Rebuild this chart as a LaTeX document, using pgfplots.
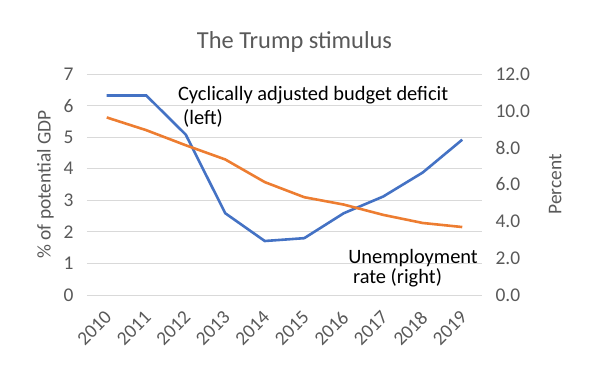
\documentclass[border=0pt]{standalone}
\usepackage{fontspec}
\setmainfont{Carlito}
\usepackage{pgfplots}
\pgfplotsset{compat=1.18}
\definecolor{cblue}{HTML}{4472C4}
\definecolor{corange}{HTML}{ED7D31}
\definecolor{tgrey}{HTML}{595959}
\definecolor{ggrey}{HTML}{D9D9D9}
\begin{document}
\begin{tikzpicture}
\useasboundingbox (-87bp,-89bp) rectangle (502bp,295bp);
\pgfplotsset{
  common/.style={
    scale only axis, width=395bp, height=221bp,
    at={(0,0)}, anchor=south west,
    xmin=-0.5, xmax=9.5, ymin=0,
    axis line style={draw=none},
    major tick style={draw=none},
    tick label style={font=\fontsize{19.5}{22}\selectfont, text=tgrey},
    label style={font=\fontsize{19.5}{22}\selectfont, text=tgrey},
    /pgf/number format/assume math mode=true,
  }
}
\begin{axis}[common,
  ymax=7, ytick={0,1,...,7},
  ymajorgrids, grid style={ggrey, line width=0.8bp},
  xtick={0,...,9},
  xticklabels={2010,2011,2012,2013,2014,2015,2016,2017,2018,2019},
  xticklabel style={xshift=4bp, yshift=-17bp, rotate=45, anchor=east},
  yticklabel style={xshift=-10bp},
  ylabel={\% of potential GDP},
  ylabel style={yshift=3bp},
]
\addplot[cblue, line width=2.6bp] coordinates {
(0,6.32) (1,6.32) (2,5.08) (3,2.59) (4,1.71) (5,1.80) (6,2.59) (7,3.12) (8,3.88) (9,4.92)};
\node[anchor=west, font=\fontsize{20.5}{24}\selectfont, inner sep=0] at (axis cs:1.80,6.33) {Cyclically adjusted budget deficit};
\node[anchor=west, font=\fontsize{20.5}{24}\selectfont, inner sep=0] at (axis cs:1.93,5.60) {(left)};
\node[anchor=west, font=\fontsize{20.5}{24}\selectfont, inner sep=0] at (axis cs:6.11,1.17) {Unemployment};
\node[anchor=west, font=\fontsize{20.5}{24}\selectfont, inner sep=0] at (axis cs:6.23,0.54) {rate (right)};
\end{axis}
\begin{axis}[common,
  ymax=12, ytick={0,2,...,12},
  axis y line*=right, axis x line=none,
  yticklabel style={xshift=10bp, /pgf/number format/fixed, /pgf/number format/fixed zerofill, /pgf/number format/precision=1},
  ylabel={Percent},
  ylabel style={yshift=-12bp},
]
\addplot[corange, line width=2.6bp] coordinates {
(0,9.64) (1,8.95) (2,8.13) (3,7.36) (4,6.13) (5,5.31) (6,4.91) (7,4.35) (8,3.91) (9,3.69)};
\end{axis}
\node[font=\fontsize{24.5}{28}\selectfont, text=tgrey] at (207.5bp,253bp) {The Trump stimulus};
\end{tikzpicture}
\end{document}
